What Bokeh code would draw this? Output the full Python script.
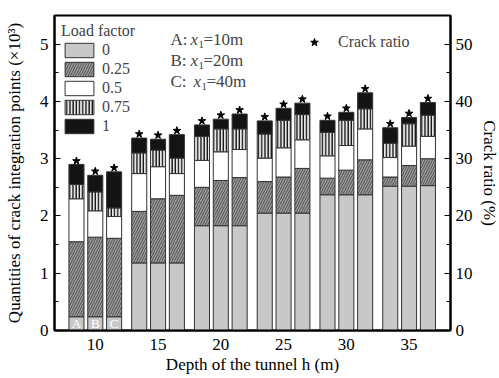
import numpy as np
from bokeh.plotting import figure
from bokeh.models import (Range1d, LinearAxis, Legend, LegendItem, Label,
                          ColumnDataSource, FixedTicker)
from bokeh.core.properties import value
from bokeh.embed import file_html
from bokeh.resources import INLINE

FONT = "Liberation Serif"

depths = [10, 15, 20, 25, 30, 35]
cases = ["A", "B", "C"]
case_offset = [-1.5, 0.0, 1.5]
load_factors = ["0", "0.25", "0.5", "0.75", "1"]

# cumulative quantities of crack integration points (x10^3) reached at each load factor
# order: 10A,10B,10C, 15A,15B,15C, ... 35C
lf_0 = [0.24, 0.24, 0.24, 1.18, 1.18, 1.18, 1.83, 1.83, 1.83,
        2.05, 2.05, 2.05, 2.37, 2.37, 2.37, 2.52, 2.52, 2.53]
lf_025 = [1.55, 1.63, 1.61, 2.08, 2.30, 2.36, 2.50, 2.62, 2.67,
          2.60, 2.68, 2.83, 2.66, 2.80, 2.98, 2.68, 2.88, 3.00]
lf_05 = [2.30, 2.09, 1.99, 2.74, 2.86, 2.74, 2.97, 3.12, 3.16,
         3.01, 3.19, 3.33, 3.05, 3.23, 3.52, 3.02, 3.22, 3.39]
lf_075 = [2.55, 2.42, 2.14, 3.10, 3.15, 3.01, 3.39, 3.52, 3.52,
          3.43, 3.67, 3.77, 3.46, 3.67, 3.87, 3.27, 3.61, 3.76]
lf_1 = [2.90, 2.71, 2.77, 3.36, 3.34, 3.42, 3.59, 3.69, 3.78,
        3.66, 3.88, 3.97, 3.67, 3.81, 4.15, 3.54, 3.72, 3.98]
# crack ratio (%)
crack_ratio = [29.6, 27.8, 28.4, 34.3, 34.1, 34.9, 36.6, 37.6, 38.5,
               37.3, 39.5, 40.4, 37.4, 38.8, 42.2, 36.1, 37.9, 40.5]

x_ticks = [10, 15, 20, 25, 30, 35]
y_ticks = [0, 1, 2, 3, 4, 5]
y2_ticks = [0, 10, 20, 30, 40, 50]

xs = [d + o for d in depths for o in case_offset]
case_labels = [c for d in depths for c in cases]

p = figure(frame_width=396, frame_height=315, output_backend="svg",
           toolbar_location=None, x_range=Range1d(6.75, 38.3),
           y_range=Range1d(0, 5.5), min_border_left=54, min_border_top=15,
           min_border_right=49, min_border_bottom=48)
p.extra_y_ranges = {"ratio": Range1d(0, 55)}
p.background_fill_color = "white"
p.border_fill_color = "white"
p.outline_line_color = "black"
p.outline_line_width = 2
p.xgrid.visible = False
p.ygrid.visible = False

cum = [lf_0, lf_025, lf_05, lf_075, lf_1]
styles = [
    dict(fill_color="#c8c8c8"),
    dict(fill_color="#9c9c9c", hatch_pattern="/", hatch_color="#3c3c3c",
         hatch_scale=5, hatch_weight=0.8),
    dict(fill_color="white"),
    dict(fill_color="#e6e6e6", hatch_pattern="|", hatch_color="#111111",
         hatch_scale=3.2, hatch_weight=1.4),
    dict(fill_color="#141414"),
]
prev = [0.0] * len(xs)
renderers = []
for i, lf in enumerate(load_factors):
    src = ColumnDataSource(dict(x=xs, bottom=prev, top=cum[i]))
    r = p.vbar(x="x", width=1.2, bottom="bottom", top="top", source=src,
               line_color="#333333", line_width=1, **styles[i])
    renderers.append(r)
    prev = cum[i]

star = p.scatter(xs, crack_ratio, y_range_name="ratio", marker="star",
                 size=8, fill_color="black", line_color="black")

abc = ColumnDataSource(dict(x=xs[:3], y=[0.12] * 3, t=case_labels[:3]))
p.text(x="x", y="y", text="t", source=abc, text_color="white",
       text_font=value(FONT), text_font_size="13px", text_align="center",
       text_baseline="middle")

# axes
p.xaxis.ticker = FixedTicker(ticks=x_ticks)
p.xaxis.major_tick_in = 0
p.xaxis.major_tick_out = 0
p.xaxis.minor_tick_line_color = None
p.xaxis.axis_line_width = 2
p.xaxis.major_label_standoff = 8
p.xaxis.axis_label = "Depth of the tunnel h (m)"
p.xaxis.axis_label_standoff = 2

p.yaxis.ticker = FixedTicker(ticks=y_ticks,
                             minor_ticks=[0.5, 1.5, 2.5, 3.5, 4.5, 5.5])
p.yaxis.major_tick_in = 6
p.yaxis.major_tick_out = 0
p.yaxis.minor_tick_in = 4
p.yaxis.minor_tick_out = 0
p.yaxis.axis_line_width = 2
p.yaxis.major_label_standoff = 6
p.yaxis.axis_label = "Quantities of crack integration points (\u00d710\u00b3)"
p.yaxis.axis_label_standoff = 13

ax2 = LinearAxis(y_range_name="ratio",
                 ticker=FixedTicker(ticks=y2_ticks,
                                    minor_ticks=[5, 15, 25, 35, 45, 55]),
                 axis_label="Crack ratio (%)")
ax2.major_tick_in = 6
ax2.major_tick_out = 0
ax2.minor_tick_in = 4
ax2.minor_tick_out = 0
ax2.axis_line_width = 2
ax2.major_label_standoff = 5
ax2.axis_label_standoff = 4
p.add_layout(ax2, "right")

for ax in [p.xaxis[0], p.yaxis[0], ax2]:
    ax.major_label_text_font = FONT
    ax.major_label_text_font_size = "17px"
    ax.major_label_text_color = "black"
    ax.axis_label_text_font = FONT
    ax.axis_label_text_font_size = "17px"
    ax.axis_label_text_font_style = "normal"
    ax.axis_label_text_color = "black"
    ax.major_tick_line_color = "black"
    ax.minor_tick_line_color = "black"
p.xaxis.minor_tick_line_color = None

# legend for load factor
legend = Legend(items=[LegendItem(label=lf, renderers=[r])
                       for lf, r in zip(load_factors, renderers)],
                location="top_left", title="Load factor")
legend.title_text_font = FONT
legend.title_text_font_size = "16px"
legend.title_text_font_style = "normal"
legend.title_standoff = 1
legend.label_text_font = FONT
legend.label_text_font_size = "16px"
legend.glyph_width = 36
legend.glyph_height = 18
legend.label_height = 18
legend.label_standoff = 5
legend.spacing = 1
legend.padding = 4
legend.margin = 3
legend.border_line_alpha = 0
legend.background_fill_alpha = 0
p.add_layout(legend)

legend2 = Legend(items=[LegendItem(label="Crack ratio", renderers=[star])],
                 location=(250, 278))
legend2.label_text_font = FONT
legend2.label_text_font_size = "16px"
legend2.glyph_width = 20
legend2.label_standoff = 14
legend2.padding = 0
legend2.margin = 0
legend2.border_line_alpha = 0
legend2.background_fill_alpha = 0
p.add_layout(legend2)

# case annotations
rows = [("A:", "=10m", 291, 136), ("B:", "=20m", 270, 136), ("C:", "=40m", 249, 139)]
for lab, val, yy, xx in rows:
    p.add_layout(Label(x=116, y=yy, x_units="screen", y_units="screen", text=lab,
                       text_font=FONT, text_font_size="17px", text_baseline="middle"))
    p.add_layout(Label(x=xx, y=yy, x_units="screen", y_units="screen", text="x",
                       text_font=FONT, text_font_style="italic",
                       text_font_size="17px", text_baseline="middle"))
    p.add_layout(Label(x=xx + 8, y=yy - 5, x_units="screen", y_units="screen", text="1",
                       text_font=FONT, text_font_size="11px", text_baseline="middle"))
    p.add_layout(Label(x=xx + 13, y=yy, x_units="screen", y_units="screen", text=val,
                       text_font=FONT, text_font_size="17px", text_baseline="middle"))

open("out.html", "w").write(file_html(p, INLINE))
